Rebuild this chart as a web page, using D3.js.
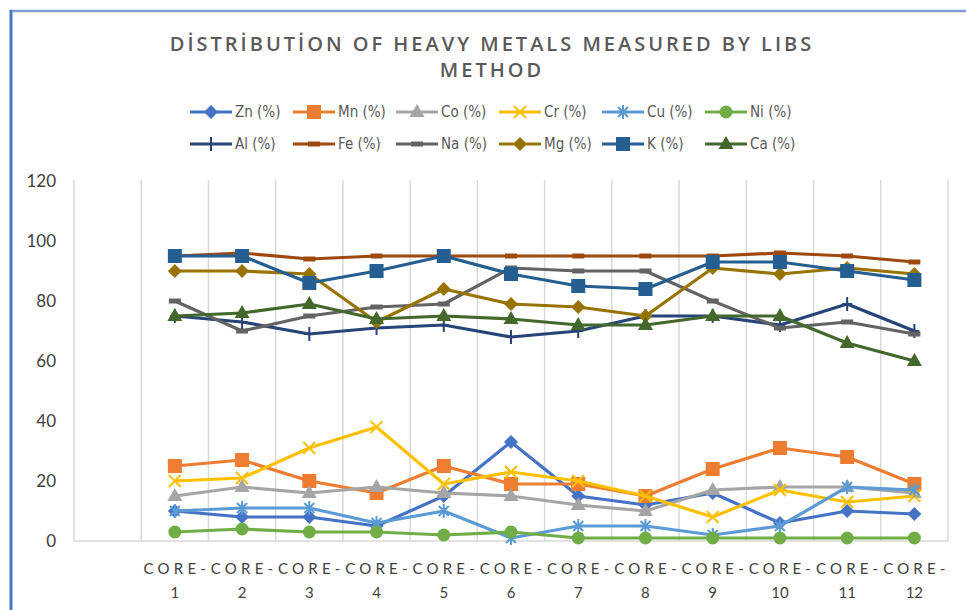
<!DOCTYPE html>
<html>
<head>
<meta charset="utf-8">
<script src="https://cdn.jsdelivr.net/npm/d3@7"></script>
<style>
  html, body { margin: 0; padding: 0; background: #fff; }
  svg { display: block; }
</style>
</head>
<body>
<svg id="chart" width="966" height="610"></svg>
<script>
// ---------- DATA ----------
const categories = ["", "CORE-1", "CORE-2", "CORE-3", "CORE-4", "CORE-5", "CORE-6",
                    "CORE-7", "CORE-8", "CORE-9", "CORE-10", "CORE-11", "CORE-12"];
const cores = categories.slice(1);
const yTicks = [0, 20, 40, 60, 80, 100, 120];
const titleLines = ["DİSTRİBUTİON OF HEAVY METALS MEASURED BY LIBS", "METHOD"];

const seriesNames = ["Zn (%)", "Mn (%)", "Co (%)", "Cr (%)", "Cu (%)", "Ni (%)",
                     "Al (%)", "Fe (%)", "Na (%)", "Mg (%)", "K (%)", "Ca (%)"];
const zn = [10, 8, 8, 5, 15, 33, 15, 12, 16, 6, 10, 9];
const mn = [25, 27, 20, 16, 25, 19, 19, 15, 24, 31, 28, 19];
const co = [15, 18, 16, 18, 16, 15, 12, 10, 17, 18, 18, 16];
const cr = [20, 21, 31, 38, 19, 23, 20, 15, 8, 17, 13, 15];
const cu = [10, 11, 11, 6, 10, 1, 5, 5, 2, 5, 18, 17];
const ni = [3, 4, 3, 3, 2, 3, 1, 1, 1, 1, 1, 1];
const al = [75, 73, 69, 71, 72, 68, 70, 75, 75, 72, 79, 70];
const fe = [95, 96, 94, 95, 95, 95, 95, 95, 95, 96, 95, 93];
const na = [80, 70, 75, 78, 79, 91, 90, 90, 80, 71, 73, 69];
const mg = [90, 90, 89, 73, 84, 79, 78, 75, 91, 89, 91, 89];
const k  = [95, 95, 86, 90, 95, 89, 85, 84, 93, 93, 90, 87];
const ca = [75, 76, 79, 74, 75, 74, 72, 72, 75, 75, 66, 60];
const seriesValues = [zn, mn, co, cr, cu, ni, al, fe, na, mg, k, ca];

// ---------- STYLE ----------
const colors = ["#4472C4", "#ED7D31", "#A5A5A5", "#FFC000", "#5B9BD5", "#70AD47",
                "#264478", "#9E480E", "#636363", "#997300", "#255E91", "#43682B"];
const markers = ["diamond", "square", "triangle", "x", "star", "circle",
                 "plus", "dash", "dash", "diamond", "square", "triangle"];

const svg = d3.select("#chart");
const W = 966, H = 610;
const plot = { left: 74, right: 948, top: 181, bottom: 541 };

svg.append("rect").attr("width", W).attr("height", H).attr("fill", "#fff");

// chart frame
svg.append("line").attr("x1", 10).attr("x2", W).attr("y1", 11).attr("y2", 11)
  .attr("stroke", "#7F9FCF").attr("stroke-width", 2.5);
svg.append("line").attr("x1", 11).attr("x2", 11).attr("y1", 10).attr("y2", H)
  .attr("stroke", "#4A78C0").attr("stroke-width", 3);

// title
const title = svg.append("text")
  .attr("text-anchor", "middle")
  .attr("font-family", "'Open Sans', Lato, sans-serif")
  .attr("font-size", 20).attr("font-weight", 600)
  .attr("fill", "#595959").attr("letter-spacing", 3);
titleLines.forEach((t, i) => {
  title.append("tspan").attr("x", 492).attr("y", 51 + i * 26).text(t);
});

// scales
const x = d3.scaleBand().domain(categories).range([plot.left, plot.right]).padding(0);
const y = d3.scaleLinear().domain([0, 120]).range([plot.bottom, plot.top]);
const cx = c => x(c) + x.bandwidth() / 2;

// vertical gridlines at category boundaries
const bounds = categories.map(c => x(c)).concat([plot.right]);
svg.append("g").selectAll("line").data(bounds).join("line")
  .attr("x1", d => d).attr("x2", d => d)
  .attr("y1", y(120) - 1).attr("y2", plot.bottom)
  .attr("stroke", "#D9D9D9").attr("stroke-width", 1.5);

// baseline
svg.append("line").attr("x1", plot.left).attr("x2", plot.right)
  .attr("y1", y(0)).attr("y2", y(0))
  .attr("stroke", "#D9D9D9").attr("stroke-width", 1.5);

// y axis labels
const yAxis = d3.axisLeft(y).tickValues(yTicks).tickSize(0).tickPadding(0);
const gy = svg.append("g").attr("transform", "translate(56,0)").call(yAxis);
gy.select(".domain").remove();
gy.selectAll("text")
  .attr("font-family", "Lato, 'Open Sans', sans-serif")
  .attr("font-size", 17).attr("fill", "#404040");

// x axis labels (two lines)
const gx = svg.append("g");
cores.forEach(c => {
  const parts = c.split("-");
  const t = gx.append("text")
    .attr("text-anchor", "middle")
    .attr("font-family", "Lato, 'Open Sans', sans-serif")
    .attr("font-size", 15).attr("fill", "#404040");
  t.append("tspan").attr("x", cx(c) + 2).attr("y", 574)
    .attr("letter-spacing", 4.2).text(parts[0] + "-");
  t.append("tspan").attr("x", cx(c)).attr("y", 598).text(parts[1]);
});

// marker drawing
function drawMarker(g, type, color) {
  switch (type) {
    case "diamond":
      g.append("path").attr("d", "M0,-7L7,0L0,7L-7,0Z").attr("fill", color); break;
    case "square":
      g.append("rect").attr("x", -7).attr("y", -7).attr("width", 14).attr("height", 14).attr("fill", color); break;
    case "triangle":
      g.append("path").attr("d", "M0,-8L7.5,5L-7.5,5Z").attr("fill", color); break;
    case "circle":
      g.append("circle").attr("r", 6.5).attr("fill", color); break;
    case "x":
      g.append("path").attr("d", "M-6,-6L6,6M-6,6L6,-6").attr("stroke", color).attr("stroke-width", 2); break;
    case "star":
      g.append("path").attr("d", "M-5,-5L5,5M-5,5L5,-5M0,-7L0,7").attr("stroke", color).attr("stroke-width", 2); break;
    case "plus":
      g.append("path").attr("d", "M0,-7L0,7M-5,0L5,0").attr("stroke", color).attr("stroke-width", 2); break;
    case "dash":
      g.append("rect").attr("x", -6).attr("y", -2.5).attr("width", 12).attr("height", 5).attr("fill", color); break;
  }
}

// series
const line = d3.line().x(d => cx(d.c)).y(d => y(d.v));
seriesNames.forEach((name, i) => {
  const pts = cores.map((c, j) => ({ c, v: seriesValues[i][j] }));
  const g = svg.append("g");
  g.append("path").datum(pts).attr("d", line)
    .attr("fill", "none").attr("stroke", colors[i]).attr("stroke-width", 3.2)
    .attr("stroke-linejoin", "round").attr("stroke-linecap", "round");
  pts.forEach(p => {
    const m = g.append("g").attr("transform", `translate(${cx(p.c)},${y(p.v)})`);
    drawMarker(m, markers[i], colors[i]);
  });
});

// legend
const leg = svg.append("g");
seriesNames.forEach((name, i) => {
  const row = Math.floor(i / 6), col = i % 6;
  const lx = 190 + col * 103, ly = 112 + row * 32;
  const g = leg.append("g");
  g.append("line").attr("x1", lx).attr("x2", lx + 42).attr("y1", ly).attr("y2", ly)
    .attr("stroke", colors[i]).attr("stroke-width", 3.2);
  const m = g.append("g").attr("transform", `translate(${lx + 21},${ly})`);
  drawMarker(m, markers[i], colors[i]);
  g.append("text").attr("x", lx + 45).attr("y", ly + 5)
    .attr("font-family", "'Liberation Sans Narrow', 'DejaVu Sans Condensed', Lato, sans-serif")
    .attr("font-size", 15).attr("fill", "#595959").text(name);
});
</script>
</body>
</html>
